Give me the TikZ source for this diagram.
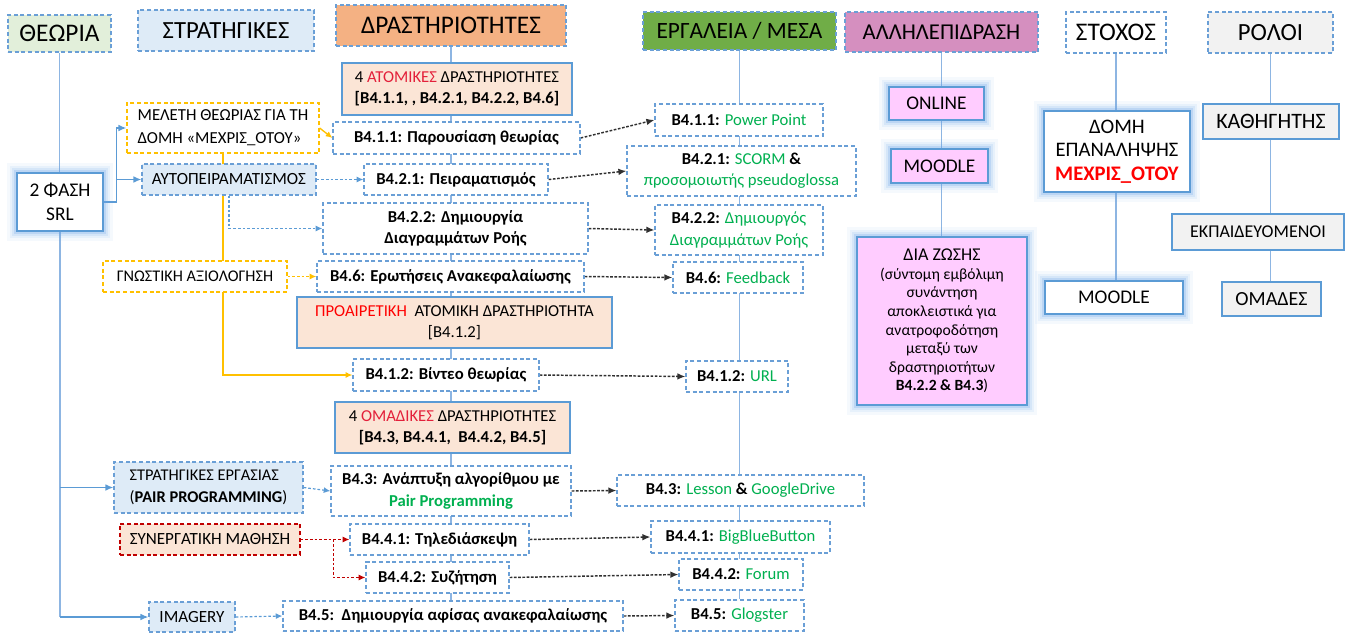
\documentclass[tikz,border=0pt]{standalone}
\usepackage{fontspec}
\setmainfont{Carlito}
\usetikzlibrary{arrows.meta,backgrounds}

\definecolor{dashblue}{HTML}{6A9FD6}
\definecolor{lineblue}{HTML}{8DB5E2}
\definecolor{arrowblue}{HTML}{5B9BD5}
\definecolor{glowblue}{HTML}{6FA8E8}
\definecolor{stratfill}{HTML}{DEEBF7}
\definecolor{theofill}{HTML}{E2EFDA}
\definecolor{actfill}{HTML}{F4B183}
\definecolor{toolfill}{HTML}{70AD47}
\definecolor{interfill}{HTML}{D58FBF}
\definecolor{rolefill}{HTML}{F2F2F2}
\definecolor{peach}{HTML}{FBE5D6}
\definecolor{pink}{HTML}{FFCCFF}
\definecolor{toolgreen}{HTML}{00B050}
\definecolor{hotred}{HTML}{FF0000}
\definecolor{wordred}{HTML}{E3203A}
\definecolor{amber}{HTML}{FFC000}
\definecolor{darkred}{HTML}{C00000}
\definecolor{dotgray}{HTML}{303030}

\begin{document}
\begin{tikzpicture}[x=0.75pt,y=-0.75pt,
  sz/.style 2 args={minimum width=#1*0.75pt, minimum height=#2*0.75pt,
                    inner sep=0pt, align=center},
  dashbox/.style={draw=dashblue, dash pattern=on 3pt off 2pt, line width=0.9pt, fill=white},
  solidbox/.style={draw=arrowblue, line width=1pt},
  glow/.style={preaction={draw=glowblue, line width=15pt, opacity=0.07},
               preaction={draw=glowblue, line width=11pt, opacity=0.1},
               preaction={draw=glowblue, line width=7pt, opacity=0.15},
               preaction={draw=glowblue, line width=4pt, opacity=0.25}},
  hdr/.style={dashbox},
  act/.style={dashbox, font=\bfseries\fontsize{12.5}{16}\selectfont},
  group/.style={solidbox, fill=peach, font=\fontsize{12.5}{16}\selectfont},
  tool/.style={dashbox, font=\fontsize{12.5}{16}\selectfont},
  strat/.style={dashbox, fill=stratfill, font=\fontsize{12.8}{16.5}\selectfont},
  note/.style={solidbox, font=\fontsize{14.5}{17}\selectfont},
  conn/.style={draw=lineblue, line width=0.9pt},
  srlarrow/.style={draw=arrowblue, line width=1pt, -{Latex[length=6pt,width=5pt]}},
  bluedash/.style={draw=arrowblue, line width=0.9pt, dash pattern=on 2pt off 1.5pt,
                   -{Latex[length=5pt,width=4.5pt]}},
  yellowline/.style={draw=amber, line width=1pt, -{Latex[length=5pt,width=4.5pt]}},
  yellowdash/.style={draw=amber, line width=1pt, dash pattern=on 2pt off 1.5pt,
                     -{Latex[length=5pt,width=4.5pt]}},
  reddash/.style={draw=darkred, line width=0.9pt, dash pattern=on 2pt off 1.5pt,
                  -{Latex[length=5pt,width=4.5pt]}},
  blackdash/.style={draw=dotgray, line width=1.1pt, dash pattern=on 2pt off 1.2pt,
                    -{Latex[length=6pt,width=5pt]}}
]
\useasboundingbox (0,0) rectangle (1349,632);

% ---------- column headers ----------
\node[hdr, fill=theofill, sz={103}{37}, font=\fontsize{19}{23}\selectfont] (theo) at (59.5,33.5) {ΘΕΩΡΙΑ};
\node[hdr, fill=stratfill, sz={176}{41}, font=\fontsize{18.5}{22}\selectfont] (strat) at (226,30.5) {ΣΤΡΑΤΗΓΙΚΕΣ};
\node[hdr, fill=actfill, sz={230}{41}, font=\fontsize{19}{22}\selectfont] (drast) at (451,25.5) {ΔΡΑΣΤΗΡΙΟΤΗΤΕΣ};
\node[hdr, fill=toolfill, sz={193}{38}, font=\fontsize{17.5}{21}\selectfont] (erg) at (739.5,31) {ΕΡΓΑΛΕΙΑ / ΜΕΣΑ};
\node[hdr, fill=interfill, sz={193}{40}, font=\fontsize{17}{21}\selectfont] (allil) at (941.5,32) {ΑΛΛΗΛΕΠΙΔΡΑΣΗ};
\node[hdr, sz={100}{41}, font=\fontsize{19}{23}\selectfont] (stoxos) at (1116,32.5) {ΣΤΟΧΟΣ};
\node[hdr, fill=rolefill, sz={125}{41}, font=\fontsize{18.5}{22}\selectfont] (roloi) at (1270.5,32.5) {ΡΟΛΟΙ};

% ---------- theory / strategies ----------
\node[note, glow, fill=white, sz={86}{58}, font=\fontsize{14.5}{18.5}\selectfont] (srl) at (60,202) {2 ΦΑΣΗ\\SRL};
\node[dashbox, draw=amber, font=\fontsize{12.6}{17}\selectfont, sz={192}{50}, align=left] (mel) at (223,128)
  {ΜΕΛΕΤΗ ΘΕΩΡΙΑΣ ΓΙΑ ΤΗ\\ΔΟΜΗ «ΜΕΧΡΙΣ\_ΟΤΟΥ»};
\node[strat, sz={174}{31}] (auto) at (229,179.5) {ΑΥΤΟΠΕΙΡΑΜΑΤΙΣΜΟΣ};
\node[dashbox, draw=amber, font=\fontsize{12.2}{16}\selectfont, sz={184}{31}] (gnos) at (195,276.5) {ΓΝΩΣΤΙΚΗ ΑΞΙΟΛΟΓΗΣΗ};
\node[strat, sz={189}{51}, align=left, font=\fontsize{12.3}{16.5}\selectfont] (strerg) at (208.5,487.5) {ΣΤΡΑΤΗΓΙΚΕΣ ΕΡΓΑΣΙΑΣ\\(\textbf{PAIR PROGRAMMING})};
\node[dashbox, draw=darkred, fill=peach, font=\fontsize{12.8}{16}\selectfont, sz={180}{31}] (syn) at (210,539.5) {ΣΥΝΕΡΓΑΤΙΚΗ ΜΑΘΗΣΗ};
\node[strat, sz={86}{30}] (imag) at (192,617) {IMAGERY};

% ---------- activities ----------
\node[group, sz={230}{52}] (at4) at (457,89)
  {4 \textcolor{wordred}{ΑΤΟΜΙΚΕΣ} ΔΡΑΣΤΗΡΙΟΤΗΤΕΣ\\ \textbf{[B4.1.1, , B4.2.1, B4.2.2, B4.6]}};
\node[act, sz={247}{32}] (b411) at (456.5,138) {B4.1.1: Παρουσίαση θεωρίας};
\node[act, sz={184}{31}] (b421) at (456,179.5) {B4.2.1: Πειραματισμός};
\node[act, sz={265}{51}] (b422) at (455.5,228.5) {B4.2.2: Δημιουργία\\Διαγραμμάτων Ροής};
\node[act, sz={267}{31}] (b46) at (450.5,276.5) {B4.6: Ερωτήσεις Ανακεφαλαίωσης};
\node[group, sz={315}{51}] (opt) at (454.5,322.5)
  {\textcolor{hotred}{ΠΡΟΑΙΡΕΤΙΚΗ}\ \ ΑΤΟΜΙΚΗ ΔΡΑΣΤΗΡΙΟΤΗΤΑ\\{}[B4.1.2]};
\node[act, sz={186}{32}] (b412) at (446,375) {B4.1.2: Βίντεο θεωρίας};
\node[group, sz={235}{51}] (om4) at (452.5,427.5)
  {4 \textcolor{wordred}{ΟΜΑΔΙΚΕΣ} ΔΡΑΣΤΗΡΙΟΤΗΤΕΣ\\ \textbf{[B4.3, B4.4.1,\ \ B4.4.2, B4.5]}};
\node[act, sz={240}{50}] (b43) at (451,491) {B4.3: Ανάπτυξη αλγορίθμου με\\\textcolor{toolgreen}{Pair Programming}};
\node[act, sz={179}{31}] (b441) at (439.5,539.5) {B4.4.1: Τηλεδιάσκεψη};
\node[act, sz={143}{31}] (b442) at (437.5,577.5) {B4.4.2: Συζήτηση};
\node[act, sz={340}{30}] (b45) at (453,616) {B4.5:\ \ Δημιουργία αφίσας ανακεφαλαίωσης};

% ---------- tools ----------
\node[tool, sz={168}{32}] (t411) at (739,120) {\textbf{B4.1.1:} \textcolor{toolgreen}{Power Point}};
\node[tool, sz={229}{50}] (t421) at (741.5,171) {\textbf{B4.2.1:} \textcolor{toolgreen}{SCORM} \textbf{\&}\\\textcolor{toolgreen}{προσομοιωτής pseudoglossa}};
\node[tool, sz={168}{50}] (t422) at (739,230) {\textbf{B4.2.2:} \textcolor{toolgreen}{Δημιουργός}\\\textcolor{toolgreen}{Διαγραμμάτων Ροής}};
\node[tool, sz={130}{31}] (t46) at (738,277.5) {\textbf{B4.6:} \textcolor{toolgreen}{Feedback}};
\node[tool, sz={102}{31}] (t412) at (737,376.5) {\textbf{B4.1.2:} \textcolor{toolgreen}{URL}};
\node[tool, sz={247}{31}] (t43) at (740.5,490.5) {\textbf{B4.3:} \textcolor{toolgreen}{Lesson} \textbf{\&} \textcolor{toolgreen}{GoogleDrive}};
\node[tool, sz={179}{32}] (t441) at (740.5,537) {\textbf{B4.4.1:} \textcolor{toolgreen}{BigBlueButton}};
\node[tool, sz={124}{31}] (t442) at (741,574.5) {\textbf{B4.4.2:} \textcolor{toolgreen}{Forum}};
\node[tool, sz={129}{31}] (t45) at (739.5,615.5) {\textbf{B4.5:} \textcolor{toolgreen}{Glogster}};

% ---------- interaction ----------
\node[note, glow, fill=pink, sz={95}{33}] (online) at (936.5,103.5) {ONLINE};
\node[note, glow, fill=pink, sz={97}{34}] (moodlea) at (939.5,166) {MOODLE};
\node[note, glow, fill=pink, sz={170}{168}, font=\fontsize{11.7}{13.9}\selectfont] (dia) at (942,321)
  {{\fontsize{13.5}{17}\selectfont ΔΙΑ ΖΩΣΗΣ}\\(σύντομη εμβόλιμη\\συνάντηση\\αποκλειστικά για\\ανατροφοδότηση\\μεταξύ των\\δραστηριοτήτων\\\textbf{B4.2.2 \& B4.3})};

% ---------- goal ----------
\node[note, glow, fill=white, font=\fontsize{15.5}{17.5}\selectfont, sz={146}{81}] (domi) at (1117,151.5)
  {ΔΟΜΗ\\ΕΠΑΝΑΛΗΨΗΣ\\\textcolor{hotred}{\textbf{ΜΕΧΡΙΣ\_ΟΤΟΥ}}};
\node[note, glow, fill=white, sz={138}{33}] (moodleb) at (1114,297.5) {MOODLE};

% ---------- roles ----------
\node[note, fill=rolefill, font=\fontsize{16.5}{19}\selectfont, sz={136}{35}] (kath) at (1271,121.5) {ΚΑΘΗΓΗΤΗΣ};
\node[note, fill=rolefill, font=\fontsize{13.5}{16}\selectfont, sz={172}{36}] (ekp) at (1258,232) {ΕΚΠΑΙΔΕΥΟΜΕΝΟΙ};
\node[note, fill=rolefill, font=\fontsize{15}{18}\selectfont, sz={99}{34}] (omades) at (1271.5,299) {ΟΜΑΔΕΣ};

% ---------- connectors ----------
\begin{pgfonlayer}{background}
  % spines of the columns
  \path[conn] (theo.south) -- (srl.north -| theo.south);
  \path[conn] (drast.south) -- (drast.south |- b45.north);
  \path[conn] (erg.south) -- (erg.south |- t45.north);
  \path[conn] (allil.south) -- (allil.south |- dia.north);
  \path[conn] (stoxos.south) -- (stoxos.south |- moodleb.north);
  \path[conn] (roloi.south) -- (roloi.south |- omades.north);

  % from the SRL phase to the strategies
  \path[srlarrow] (srl.east) -- ++(13,0) |- (mel.west);
  \path[srlarrow] (srl.east) -- ++(13,0) |- (auto.west);
  \path[conn] (srl.south) -- (srl.south |- imag.west);
  \path[srlarrow] (srl.south |- strerg.west) -- (strerg.west);
  \path[srlarrow] (srl.south |- imag.west) -- (imag.west);

  % strategies to activities
  \path[yellowline] (mel.east) -- (b411.west);
  \path[yellowline] (mel.south) |- (b412.west);
  \path[bluedash] (auto.east) -- (b421.west);
  \path[bluedash] (auto.south) |- (b422.west);
  \path[yellowdash] (gnos.east) -- (b46.west);
  \path[bluedash] (strerg.east) -- (b43.west);
  \path[reddash] (syn.east) -- (b441.west);
  \path[reddash] (syn.east) -- ++(33,0) |- (b442.west);
  \path[bluedash] (imag.east) -- (b45.west);

  % activities to tools
  \path[blackdash] (b411.east) -- (t411.west);
  \path[blackdash] (b421.east) -- (t421.west);
  \path[blackdash] (b422.east) -- (t422.west);
  \path[blackdash] (b46.east) -- (t46.west);
  \path[blackdash] (b412.east) -- (t412.west);
  \path[blackdash] (b43.east) -- (t43.west);
  \path[blackdash] (b441.east) -- (t441.west);
  \path[blackdash] (b442.east) -- (t442.west);
  \path[blackdash] (b45.east) -- (t45.west);
\end{pgfonlayer}
\end{tikzpicture}
\end{document}
